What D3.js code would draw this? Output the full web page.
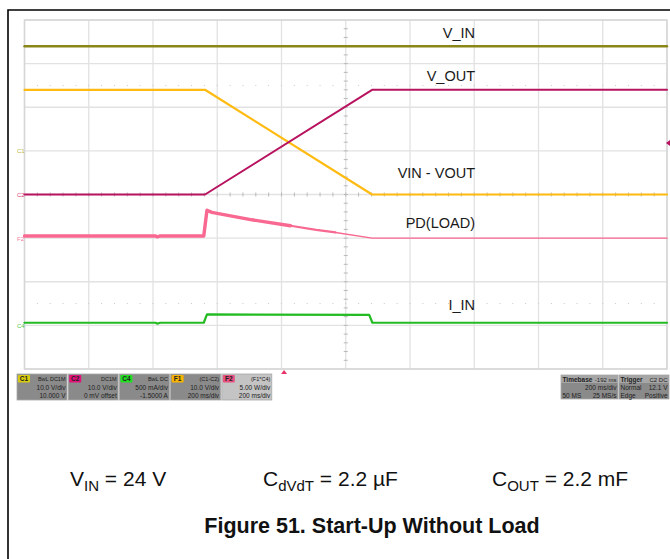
<!DOCTYPE html>
<html>
<head>
<meta charset="utf-8">
<script src="https://cdn.jsdelivr.net/npm/d3@7"></script>
<style>
  body { margin: 0; background: #fff; }
  svg { display: block; font-family: "Liberation Sans", Arial, sans-serif; }
</style>
</head>
<body>
<svg id="scope" width="670" height="559"></svg>
<script>
// time in ms, values in channel units
var timeRange = [-808, 1192];
var vinTrace = [[-808, 24], [1192, 24]];
var voutTrace = [[-808, 0], [-246, 0], [274, 24], [1192, 24]];
var diffTrace = [[-808, 24], [-246, 24], [274, 0], [1192, 0]];
var pdTrace = [[-808, 0.25], [-400, 0.25], [-395, 0.15], [-385, 0.25], [-250, 0.25], [-240, 3.2], [-225, 2.95], [-100, 2.1], [20, 1.42]];
var pdMid = [[20, 1.42], [100, 0.95], [160, 0.65]];
var pdTail = [[160, 0.65], [274, 0.0], [1192, 0.0]];
var iinTrace = [[-808, 0.03], [-400, 0.03], [-395, 0.02], [-385, 0.03], [-250, 0.03], [-240, 0.125], [265, 0.12], [275, 0.03], [1192, 0.03]];

// per channel: units per division, zero position in divisions
var channels = [
  {name: "C1", perDiv: 10, zero: 1, color: "#8a8618"},
  {name: "C2", perDiv: 10, zero: 0, color: "#b8135f"},
  {name: "F1", perDiv: 10, zero: 0, color: "#ffbb11"},
  {name: "F2", perDiv: 5, zero: -1, color: "#f86890"},
  {name: "C4", perDiv: 0.5, zero: -3, color: "#22bb22"}
];

var traceLabels = ["V_IN", "V_OUT", "VIN - VOUT", "PD(LOAD)", "I_IN"];
var labelY = [38, 81, 178, 228, 310];

var infoBoxes = [
  {tag: "C1", tagColor: "#d8cc10", head: "BwL DC1M", l1: "10.0 V/div", l2: "10.000 V"},
  {tag: "C2", tagColor: "#e4107a", head: "DC1M", l1: "10.0 V/div", l2: "0 mV offset"},
  {tag: "C4", tagColor: "#20e020", head: "BwL DC", l1: "500 mA/div", l2: "-1.5000 A"},
  {tag: "F1", tagColor: "#f8b400", head: "(C1-C2)", l1: "10.0 V/div", l2: "200 ms/div"},
  {tag: "F2", tagColor: "#e85080", head: "(F1*C4)", l1: "5.00 W/div", l2: "200 ms/div", light: true}
];

var svg = d3.select("#scope");

// page frame
svg.append("path").attr("d", "M8,559 L8,10 L670,10")
  .attr("fill", "none").attr("stroke", "#000").attr("stroke-width", 1.6);

var gLeft = 24.5, gRight = 667, gTop = 20, gBottom = 369;
var x = d3.scaleLinear().domain(timeRange).range([gLeft, gRight]);
var y = d3.scaleLinear().domain([-4, 4]).range([gBottom, gTop]);

// grid
var grid = svg.append("g");
grid.selectAll(".vg").data(d3.range(0, 11)).enter().append("line")
  .attr("x1", function(d) { return gLeft + d * (gRight - gLeft) / 10; })
  .attr("x2", function(d) { return gLeft + d * (gRight - gLeft) / 10; })
  .attr("y1", gTop).attr("y2", gBottom)
  .attr("stroke", "#e2e2e2").attr("stroke-width", 1.3);
grid.selectAll(".hg").data(d3.range(-4, 5)).enter().append("line")
  .attr("x1", gLeft).attr("x2", gRight)
  .attr("y1", function(d) { return y(d); }).attr("y2", function(d) { return y(d); })
  .attr("stroke", "#e2e2e2").attr("stroke-width", 1.3);
grid.append("rect").attr("x", gLeft).attr("y", gTop).attr("width", gRight - gLeft).attr("height", gBottom - gTop)
  .attr("fill", "none").attr("stroke", "#d6d6d6").attr("stroke-width", 1.5);

// minor ticks along centre axes
var cx = (gLeft + gRight) / 2;
var tickG = svg.append("g").attr("stroke", "#b8b8b8").attr("stroke-width", 1);
tickG.selectAll(".tx").data(d3.range(1, 50)).enter().append("line")
  .attr("x1", function(d) { return gLeft + d * (gRight - gLeft) / 50; })
  .attr("x2", function(d) { return gLeft + d * (gRight - gLeft) / 50; })
  .attr("y1", y(0) - 2).attr("y2", y(0) + 2);
tickG.selectAll(".ty").data(d3.range(1, 40)).enter().append("line")
  .attr("y1", function(d) { return gTop + d * (gBottom - gTop) / 40; })
  .attr("y2", function(d) { return gTop + d * (gBottom - gTop) / 40; })
  .attr("x1", cx - 2).attr("x2", cx + 2);
[2.5, -2.5].forEach(function(r) {
  svg.append("g").selectAll("rect").data(d3.range(1, 50)).enter().append("rect")
    .attr("x", function(d) { return gLeft + d * (gRight - gLeft) / 50 - 0.5; })
    .attr("y", y(r) - 0.5).attr("width", 1).attr("height", 1).attr("fill", "#c8c8c8");
});

function lineFor(ch) {
  return d3.line()
    .x(function(d) { return x(d[0]); })
    .y(function(d) { return y(ch.zero + d[1] / ch.perDiv); });
}
function drawTrace(data, ch, w) {
  svg.append("path").datum(data).attr("d", lineFor(ch))
    .attr("fill", "none").attr("stroke", ch.color).attr("stroke-width", w)
    .attr("stroke-linejoin", "round").attr("stroke-linecap", "round");
}

drawTrace(vinTrace, channels[0], 2.4);
drawTrace(pdTail, channels[3], 1.4);
drawTrace(pdMid, channels[3], 2.2);
drawTrace(pdTrace, channels[3], 3.4);
drawTrace(iinTrace, channels[4], 2.2);
drawTrace(diffTrace, channels[2], 2.2);
drawTrace(voutTrace, channels[1], 2);

// channel ground markers on the left
var markers = [
  {t: "C1", ch: channels[0], c: "#c0b840"},
  {t: "C2", ch: channels[1], c: "#e0407a"},
  {t: "F2", ch: channels[3], c: "#f47ca0"},
  {t: "C4", ch: channels[4], c: "#50c850"}
];
svg.selectAll(".mk").data(markers).enter().append("text")
  .attr("x", 17).attr("y", function(d) { return y(d.ch.zero) + 2.5; })
  .attr("font-size", 6).attr("fill", function(d) { return d.c; })
  .text(function(d) { return d.t; });
svg.append("path").attr("d", "M670,140 L666,143 L670,146 Z").attr("fill", "#b8135f");
svg.append("path").attr("d", "M" + x(0) + ",370 l-3,4 l6,0 Z").attr("fill", "#e8306a");

// trace labels
svg.selectAll(".tl").data(traceLabels).enter().append("text")
  .attr("x", 475).attr("y", function(d, i) { return labelY[i]; })
  .attr("text-anchor", "end").attr("font-size", 14.5).attr("fill", "#1a1a1a")
  .text(function(d) { return d; });

// info boxes
var bw = 50, bh = 26, by = 374;
var boxes = svg.selectAll(".ib").data(infoBoxes).enter().append("g")
  .attr("transform", function(d, i) { return "translate(" + (17 + i * 51.2) + "," + by + ")"; });
boxes.append("rect").attr("width", bw).attr("height", bh)
  .attr("fill", function(d) { return d.light ? "#c4c4c4" : "#8a8a8a"; })
  .attr("stroke", "#a8a8a8").attr("stroke-width", 0.8);
boxes.append("rect").attr("x", 1).attr("y", 1).attr("width", 12).attr("height", 7.5).attr("rx", 1)
  .attr("fill", function(d) { return d.tagColor; });
boxes.append("text").attr("x", 7).attr("y", 7.2).attr("text-anchor", "middle")
  .attr("font-size", 6.5).attr("font-weight", "bold").attr("fill", "#222")
  .text(function(d) { return d.tag; });
boxes.append("text").attr("x", bw - 1.5).attr("y", 7).attr("text-anchor", "end")
  .attr("font-size", 5.5).attr("fill", "#222").text(function(d) { return d.head; });
boxes.append("text").attr("x", bw - 1.5).attr("y", 16).attr("text-anchor", "end")
  .attr("font-size", 6.5).attr("fill", "#222").text(function(d) { return d.l1; });
boxes.append("text").attr("x", bw - 1.5).attr("y", 23.5).attr("text-anchor", "end")
  .attr("font-size", 6.5).attr("fill", "#222").text(function(d) { return d.l2; });

function sideBox(x0, w, head, headR, l1L, l1R, l2L, l2R) {
  var g = svg.append("g").attr("transform", "translate(" + x0 + "," + (by + 1) + ")");
  g.append("rect").attr("width", w).attr("height", 24).attr("fill", "#8a8a8a").attr("stroke", "#a8a8a8").attr("stroke-width", 0.8);
  g.append("rect").attr("width", w).attr("height", 8).attr("fill", "#a6a6a6");
  g.append("text").attr("x", 1.5).attr("y", 6.8).attr("font-size", 6.5).attr("font-weight", "bold").attr("fill", "#222").text(head);
  g.append("text").attr("x", w - 1.5).attr("y", 6.8).attr("text-anchor", "end").attr("font-size", 6).attr("fill", "#222").text(headR);
  g.append("text").attr("x", 1.5).attr("y", 15).attr("font-size", 6.5).attr("fill", "#222").text(l1L);
  g.append("text").attr("x", w - 1.5).attr("y", 15).attr("text-anchor", "end").attr("font-size", 6.5).attr("fill", "#222").text(l1R);
  g.append("text").attr("x", 1.5).attr("y", 22.5).attr("font-size", 6.5).attr("fill", "#222").text(l2L);
  g.append("text").attr("x", w - 1.5).attr("y", 22.5).attr("text-anchor", "end").attr("font-size", 6.5).attr("fill", "#222").text(l2R);
}
sideBox(561, 57, "Timebase", "-192 ms", "", "200 ms/div", "50 MS", "25 MS/s");
sideBox(619, 50, "Trigger", "C2  DC", "Normal", "12.1 V", "Edge", "Positive");

// conditions line
function condition(xPos, main, sub, rest) {
  var t = svg.append("text").attr("x", xPos).attr("y", 486).attr("font-size", 21).attr("fill", "#111");
  t.append("tspan").text(main);
  t.append("tspan").attr("font-size", 15).attr("dy", 5).text(sub);
  t.append("tspan").attr("dy", -5).text(rest);
}
condition(70, "V", "IN", " = 24 V");
condition(263, "C", "dVdT", " = 2.2 µF");
condition(492, "C", "OUT", " = 2.2 mF");

svg.append("text").attr("x", 372).attr("y", 533).attr("text-anchor", "middle")
  .attr("font-size", 21.5).attr("font-weight", "bold").attr("fill", "#111")
  .text("Figure 51. Start-Up Without Load");
</script>
</body>
</html>
